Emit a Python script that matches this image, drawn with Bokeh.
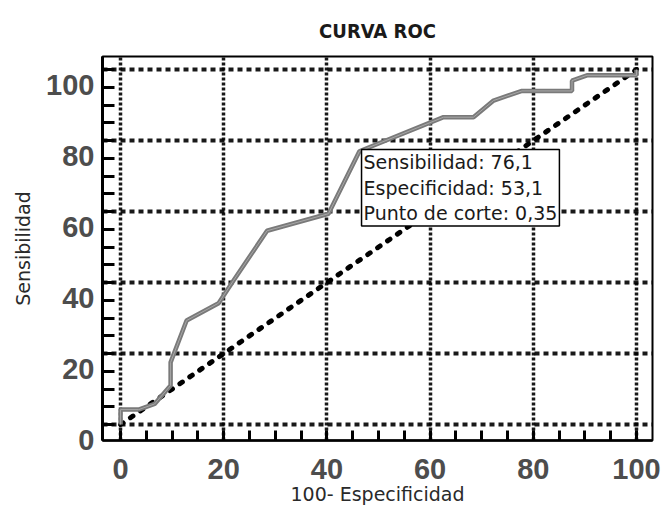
from bokeh.plotting import figure
from bokeh.models import Range1d, FixedTicker, Label
from bokeh.embed import file_html
from bokeh.resources import INLINE

# ---- data -------------------------------------------------------------
x_tick_values = [0, 20, 40, 60, 80, 100]
x_tick_labels = ["0", "20", "40", "60", "80", "100"]
y_tick_values = [0, 20, 40, 60, 80, 100]
y_tick_labels = ["0", "20", "40", "60", "80", "100"]
minor_tick_values = [0, 5, 10, 15, 20, 25, 30, 35, 40, 45, 50,
                     55, 60, 65, 70, 75, 80, 85, 90, 95, 100]

# ROC curve: 100 - Especificidad (x) vs Sensibilidad (y)
roc_x = [0, 0, 3.5, 6.6, 9.7, 9.7, 12.8, 19.0, 21.9, 28.4, 40.3,
         46.3, 62.6, 68.4, 72.3, 77.8, 87.5, 87.5, 90.4, 100, 100]
roc_y = [0, 4.2, 4.2, 5.8, 11.0, 17.5, 29.3, 34.2, 40.6, 54.6, 59.4,
         77.0, 86.6, 86.6, 91.3, 94.0, 94.0, 96.9, 98.4, 98.4, 100]

# reference (chance) line
ref_x = [0, 100]
ref_y = [0, 100]

# optimal cut-off point
cut_sens = 76.1
cut_esp = 53.1
cut_point = 0.35

LABEL_SHIFT = 4.25  # tick labels sit slightly below their grid lines

NUM_FONT = "Liberation Sans"
TXT_FONT = "DejaVu Sans"

p = figure(width=661, height=507, output_backend="svg", toolbar_location=None,
           x_range=Range1d(-3.5, 103.1), y_range=Range1d(-4.5, 103.7),
           min_border_left=102, min_border_right=9,
           min_border_top=56, min_border_bottom=67,
           title="CURVA ROC")

p.background_fill_color = "white"
p.border_fill_color = "white"
p.outline_line_color = "black"
p.outline_line_width = 2

p.title.align = "center"
p.title.text_font = "DejaVu Sans Condensed"
p.title.text_font_size = "20px"
p.title.text_font_style = "bold"
p.title.text_color = "#1a1a1a"
p.title.standoff = 27

# ---- x axis ----------------------------------------------------------
xa = p.xaxis[0]
xa.ticker = FixedTicker(ticks=x_tick_values, minor_ticks=minor_tick_values)
xa.major_label_overrides = {v: l for v, l in zip(x_tick_values, x_tick_labels)}
xa.axis_line_color = "black"
xa.axis_line_width = 2.5
xa.major_tick_in = 10
xa.major_tick_out = 0
xa.minor_tick_in = 10
xa.minor_tick_out = 0
xa.major_tick_line_width = 3
xa.minor_tick_line_width = 3
xa.major_tick_line_color = "black"
xa.minor_tick_line_color = "black"
xa.major_label_text_font = NUM_FONT
xa.major_label_text_font_size = "29px"
xa.major_label_text_font_style = "bold"
xa.major_label_text_color = "#4d4d4d"
xa.major_label_standoff = 18
xa.axis_label = "100- Especificidad"
xa.axis_label_text_font = TXT_FONT
xa.axis_label_text_font_size = "19px"
xa.axis_label_text_font_style = "normal"
xa.axis_label_text_color = "#2a2a2a"
xa.axis_label_standoff = 1

# ---- y axis ----------------------------------------------------------
ya = p.yaxis[0]
shifted = [v - LABEL_SHIFT for v in y_tick_values]
ya.ticker = FixedTicker(ticks=shifted, minor_ticks=minor_tick_values)
ya.major_label_overrides = {s: l for s, l in zip(shifted, y_tick_labels)}
ya.axis_line_color = "black"
ya.axis_line_width = 3
ya.major_tick_line_color = None
ya.major_tick_in = 0
ya.major_tick_out = 0
ya.minor_tick_in = 12
ya.minor_tick_out = 0
ya.minor_tick_line_width = 3
ya.minor_tick_line_color = "black"
ya.major_label_text_font = NUM_FONT
ya.major_label_text_font_size = "29px"
ya.major_label_text_font_style = "bold"
ya.major_label_text_color = "#4d4d4d"
ya.major_label_standoff = 8
ya.axis_label = "Sensibilidad"
ya.axis_label_text_font = TXT_FONT
ya.axis_label_text_font_size = "19px"
ya.axis_label_text_font_style = "normal"
ya.axis_label_text_color = "#2a2a2a"
ya.axis_label_standoff = 9

# ---- grids -----------------------------------------------------------
p.xgrid.ticker = FixedTicker(ticks=x_tick_values)
p.ygrid.ticker = FixedTicker(ticks=y_tick_values)
p.xgrid.grid_line_color = "black"
p.xgrid.grid_line_width = 3.5
p.xgrid.grid_line_dash = "3 2"
p.xgrid.grid_line_alpha = 0.9
p.ygrid.grid_line_color = "black"
p.ygrid.grid_line_width = 4
p.ygrid.grid_line_dash = "5 4"
p.ygrid.grid_line_alpha = 0.9

# ---- lines -----------------------------------------------------------
p.line(ref_x, ref_y, line_color="black", line_width=5, line_dash="3 9",
       line_cap="round")
p.line(roc_x, roc_y, line_color="#7a7a7a", line_width=4.5)
p.line(roc_x, roc_y, line_color="#a8a8a8", line_width=1)

# ---- cut-off annotation -----------------------------------------------
def fmt(v, d):
    return f"{v:.{d}f}".replace(".", ",")

box_text = (f"Sensibilidad: {fmt(cut_sens, 1)}\n"
            f"Especificidad: {fmt(cut_esp, 1)}\n"
            f"Punto de corte: {fmt(cut_point, 2)}")
lab = Label(x=100 - cut_esp, y=cut_sens, text=box_text,
            x_offset=-1, y_offset=5,
            text_font=TXT_FONT, text_font_size="19px", text_color="#1a1a1a",
            text_align="left", text_baseline="top", text_line_height=1.15,
            background_fill_color="white", border_line_color="black",
            border_line_width=1.5, padding=2)
p.add_layout(lab)

open("out.html", "w").write(file_html(p, INLINE))
